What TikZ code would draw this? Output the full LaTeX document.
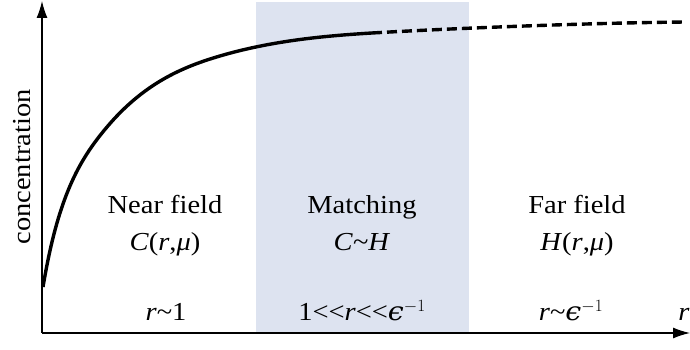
\documentclass[tikz,border=0pt]{standalone}
\usepackage{fontspec}
\setmainfont[FakeStretch=1.1]{Liberation Serif}
\newfontfamily\grkfont[FakeStretch=1.1]{DejaVu Serif}
\usetikzlibrary{arrows.meta}
\definecolor{matchblue}{RGB}{221,227,240}
\newcommand{\tld}{\textasciitilde}
\newcommand{\epsinv}{{\grkfont\itshape ϵ}$^{-1}$}
\begin{document}
\begin{tikzpicture}[>={Latex[length=17bp,width=11bp]},line join=bevel,
  lbl/.style={anchor=base,inner sep=0pt,font=\fontsize{26}{30}\selectfont},
  axis/.style={line width=1.2bp,->},
  conc/.style={line width=3.4bp}]
\useasboundingbox (0bp,0bp) rectangle (690bp,350bp);
%%
\fill [matchblue] (256bp,17bp) rectangle (469bp,348bp);
\coordinate (origin) at (42bp,17bp);
\coordinate (ytip) at (42bp,349bp);
\coordinate (xtip) at (690bp,17bp);
\draw [axis] (origin) -- (ytip);
\draw [axis] (origin) -- (xtip);
%
\coordinate (c_0) at (43bp,63bp);
\coordinate (c_1) at (107bp,223bp);
\coordinate (c_2) at (207bp,290bp);
\coordinate (c_3) at (372bp,317bp);
\coordinate (c_4) at (686bp,328bp);
\draw [conc] (c_0) ..controls (58bp,153bp) and (79bp,190bp) .. (c_1)
  ..controls (140bp,262bp) and (174bp,279bp) .. (c_2)
  ..controls (262bp,308bp) and (317bp,313.7bp) .. (c_3);
\draw [conc,dash pattern=on 10bp off 5bp] (c_3) ..controls (440bp,321bp) and (580bp,327bp) .. (c_4);
%
\node (ylabel) at (22bp,183bp) [lbl,anchor=center,rotate=90] {concentration};
\node (near) at (165bp,136bp) [lbl] {Near field};
\node (match) at (362bp,136bp) [lbl] {Matching};
\node (far) at (577bp,136bp) [lbl] {Far field};
\node (near_f) at (165bp,99bp) [lbl] {\textit{C}(\textit{r},\textit{μ})};
\node (match_f) at (362bp,99bp) [lbl] {\textit{C}\tld\textit{H}};
\node (far_f) at (577bp,99bp) [lbl] {\textit{H}(\textit{r},\textit{μ})};
\node (near_r) at (166bp,30bp) [lbl] {\textit{r}\tld 1};
\node (match_r) at (362bp,30bp) [lbl] {1<{}<\textit{r}<{}<\epsinv};
\node (far_r) at (571bp,30bp) [lbl] {\textit{r}\tld\epsinv};
\node (xlabel) at (684bp,30bp) [lbl] {\textit{r}};
%
\end{tikzpicture}
\end{document}
